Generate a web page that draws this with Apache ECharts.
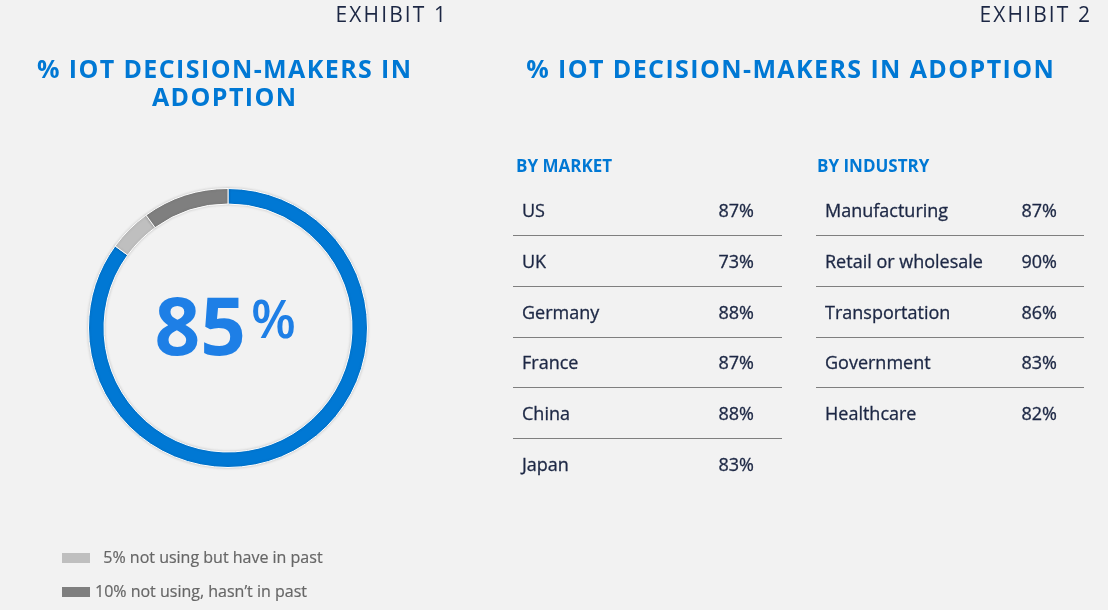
<!DOCTYPE html>
<html>
<head>
<meta charset="utf-8">
<script src="https://cdn.jsdelivr.net/npm/echarts@6/dist/echarts.min.js"></script>
<style>
html,body{margin:0;padding:0;background:#f2f2f2;}
#chart{width:1108px;height:610px;}
</style>
</head>
<body>
<div id="chart"></div>
<script>
// ---- data ----
var adoptionNames = ['in adoption', 'not using but have in past', 'not using, hasn\u2019t in past'];
var adoptionValues = [85, 5, 10];
var adoptionColors = ['#0078d4', '#bfbfbf', '#7f7f7f'];

var marketLabels = ['US', 'UK', 'Germany', 'France', 'China', 'Japan'];
var marketValues = [87, 73, 88, 87, 88, 83];

var industryLabels = ['Manufacturing', 'Retail or wholesale', 'Transportation', 'Government', 'Healthcare'];
var industryValues = [87, 90, 86, 83, 82];

var exhibitTitles = ['EXHIBIT 1', 'EXHIBIT 2'];
var mainTitle1 = ['% IOT DECISION-MAKERS IN', 'ADOPTION'];
var mainTitle2 = '% IOT DECISION-MAKERS IN ADOPTION';
var tableHeaders = ['BY MARKET', 'BY INDUSTRY'];

var FONT = '"Open Sans", "Noto Sans", sans-serif';
var NAVY = '#1c2744';
var BLUE = '#0078d4';

function spaced(s) { return s.split('').join('\u200A'); }
function spacedRich(s) {
  return s.split('').map(function (c) { return '{c|' + c + '}'; }).join('{g|\u200A}');
}
var titleRich = {
  c: { fontSize: 25, fontWeight: 'bold', fontFamily: FONT, fill: BLUE, color: BLUE, lineHeight: 30 },
  g: { fontSize: 14, fontFamily: FONT, fill: BLUE, color: BLUE, lineHeight: 30 }
};

var chart = echarts.init(document.getElementById('chart'));

function tableSeries(idx, labels, values) {
  return {
    type: 'custom',
    xAxisIndex: idx,
    yAxisIndex: idx,
    silent: true,
    data: labels.map(function (l, i) { return [0, i, values[i]]; }),
    encode: { x: 0, y: 1 },
    renderItem: function (params, api) {
      var i = api.value(1);
      var p = api.coord([0, i]);
      var band = api.size([0, 1])[1];
      var cs = params.coordSys;
      var children = [
        { type: 'text', style: { x: cs.x + 9, y: p[1] + 2, text: labels[i], fill: NAVY,
          font: '18px ' + FONT, align: 'left', verticalAlign: 'middle', stroke: NAVY, lineWidth: 0.3 } },
        { type: 'text', style: { x: cs.x + 241, y: p[1] + 2, text: api.value(2) + '%', fill: NAVY,
          font: '18px ' + FONT, align: 'right', verticalAlign: 'middle', stroke: NAVY, lineWidth: 0.3 } }
      ];
      if (i < labels.length - 1) {
        var ly = Math.round(p[1] + band / 2) + 0.5;
        children.push({ type: 'line', shape: { x1: cs.x, y1: ly, x2: cs.x + cs.width, y2: ly },
          style: { stroke: '#7f7f7f', lineWidth: 1 } });
      }
      return { type: 'group', children: children };
    }
  };
}

var bandH = 50.7;
var option = {
  backgroundColor: '#f2f2f2',
  animation: false,
  legend: {
    orient: 'vertical',
    left: 62,
    top: 548,
    padding: 0,
    itemWidth: 28,
    itemHeight: 10,
    itemGap: 14,
    selectedMode: false,
    icon: 'rect',
    itemStyle: { borderWidth: 0, shadowBlur: 0 },
    data: [adoptionNames[1], adoptionNames[2]],
    formatter: function (name) {
      var i = adoptionNames.indexOf(name);
      return (i === 1 ? '\u00a0\u00a0' : '') + adoptionValues[i] + '% ' + name;
    },
    textStyle: { color: '#666666', fontSize: 16, fontFamily: FONT, lineHeight: 20, textBorderColor: '#666666', textBorderWidth: 0.2 }
  },
  grid: [
    { left: 513, top: 210 - bandH / 2, width: 269, height: bandH * marketLabels.length },
    { left: 816, top: 210 - bandH / 2, width: 268, height: bandH * industryLabels.length }
  ],
  xAxis: [
    { gridIndex: 0, type: 'value', min: 0, max: 1, show: false },
    { gridIndex: 1, type: 'value', min: 0, max: 1, show: false }
  ],
  yAxis: [
    { gridIndex: 0, type: 'category', data: marketLabels, inverse: true, show: false },
    { gridIndex: 1, type: 'category', data: industryLabels, inverse: true, show: false }
  ],
  series: [
    {
      type: 'pie',
      center: [228, 328],
      radius: [124, 139.5],
      startAngle: 90,
      clockwise: true,
      silent: true,
      label: { show: false },
      labelLine: { show: false },
      itemStyle: { borderColor: '#ffffff', borderWidth: 1, shadowBlur: 3, shadowColor: 'rgba(0,0,0,0.18)' },
      data: adoptionNames.map(function (n, i) {
        return { name: n, value: adoptionValues[i], itemStyle: { color: adoptionColors[i] } };
      })
    },
    tableSeries(0, marketLabels, marketValues),
    tableSeries(1, industryLabels, industryValues)
  ],
  graphic: [
    { type: 'text', x: 446, y: 16, style: { text: spaced(exhibitTitles[0]), fill: NAVY, font: '21px ' + FONT, align: 'right', verticalAlign: 'middle' } },
    { type: 'text', x: 1090, y: 16, style: { text: spaced(exhibitTitles[1]), fill: NAVY, font: '21px ' + FONT, align: 'right', verticalAlign: 'middle' } },
    { type: 'text', x: 224, y: 71, style: { text: spacedRich(mainTitle1[0]), fill: BLUE, rich: titleRich, align: 'center', verticalAlign: 'middle' } },
    { type: 'text', x: 224, y: 99, style: { text: spacedRich(mainTitle1[1]), fill: BLUE, rich: titleRich, align: 'center', verticalAlign: 'middle' } },
    { type: 'text', x: 790, y: 71, style: { text: spacedRich(mainTitle2), fill: BLUE, rich: titleRich, align: 'center', verticalAlign: 'middle' } },
    { type: 'text', x: 516, y: 167, style: { text: tableHeaders[0], fill: BLUE, font: 'bold 17px ' + FONT, verticalAlign: 'middle' } },
    { type: 'text', x: 817, y: 167, style: { text: tableHeaders[1], fill: BLUE, font: 'bold 17px ' + FONT, verticalAlign: 'middle' } },
    { type: 'text', x: 246, y: 332, style: { text: String(adoptionValues[0]), fill: '#1e7fe6', font: 'bold 80px ' + FONT, align: 'right', verticalAlign: 'middle' } },
    { type: 'text', x: 251, y: 323, style: { text: '%', fill: '#1e7fe6', font: '600 52px ' + FONT, align: 'left', verticalAlign: 'middle' } }
  ]
};
chart.setOption(option);
</script>
</body>
</html>
